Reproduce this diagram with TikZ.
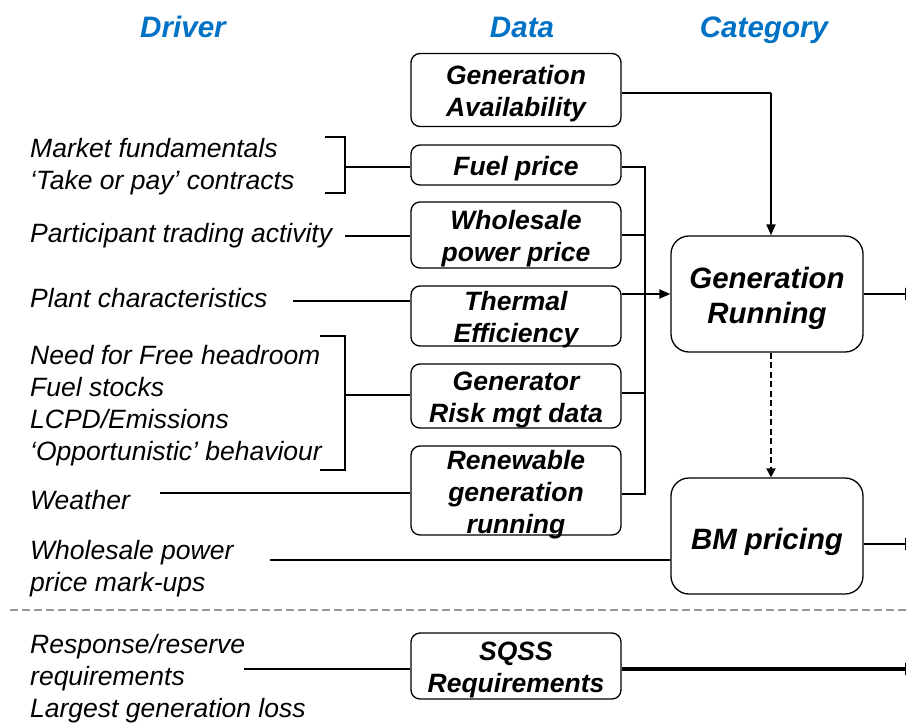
\documentclass[tikz,border=0pt]{standalone}
\usepackage{fontspec}
\setmainfont{Liberation Sans}
\usetikzlibrary{arrows.meta}
\definecolor{hdrblue}{RGB}{0,114,198}
\definecolor{sepgray}{RGB}{150,150,150}
\begin{document}
\begin{tikzpicture}[x=1pt,y=-1pt,
  databox/.style={draw, rounded corners=9pt, minimum width=210pt, line width=1.3pt, inner sep=0pt},
  dtext/.style={align=center, inner sep=0pt, yshift=-4pt, font=\fontsize{26.5}{32}\selectfont\bfseries\itshape},
  catbox/.style={draw, rounded corners=18pt, minimum width=192pt, minimum height=116pt,
    line width=1.3pt, inner sep=0pt},
  ctext/.style={align=center, inner sep=0pt, yshift=-4pt, font=\fontsize{29.4}{35}\selectfont\bfseries\itshape},
  drv/.style={anchor=west, align=left, inner sep=0pt, font=\fontsize{26.5}{32}\selectfont\itshape},
  hdr/.style={anchor=base, inner sep=0pt, text=hdrblue, font=\fontsize{29.6}{35}\selectfont\bfseries\itshape},
  conn/.style={line width=1.3pt},
  arr/.style={line width=2pt, -{Triangle[length=11pt,width=9pt]}},
  outarr/.style={line width=2.6pt, -{Triangle[length=12pt,width=12pt]}},
  sep/.style={draw=sepgray, line width=1.6pt, dash pattern=on 8pt off 4pt}]
\clip (0,0) rectangle (906,724);
\fill[white] (0,0) rectangle (906,724);

% headers
\node[hdr] (hdriver) at (183,37) {Driver};
\node[hdr] (hdata) at (522,37) {Data};
\node[hdr] (hcat) at (764,37) {Category};

% data boxes
\node[databox, minimum height=73pt, label={[dtext]center:{Generation\\Availability}}] (gavail) at (516,90) {};
\node[databox, minimum height=40pt, label={[dtext]center:{Fuel price}}] (fuel) at (516,165) {};
\node[databox, minimum height=66pt, label={[dtext]center:{Wholesale\\power price}}] (whole) at (516,235) {};
\node[databox, minimum height=60pt, label={[dtext]center:{Thermal\\Efficiency}}] (therm) at (516,316) {};
\node[databox, minimum height=64pt, label={[dtext]center:{Generator\\Risk mgt data}}] (risk) at (516,396) {};
\node[databox, minimum height=89pt, label={[dtext]center:{Renewable\\generation\\running}}] (renew) at (516,490.5) {};
\node[databox, minimum height=66pt, label={[dtext]center:{SQSS\\Requirements}}] (sqss) at (516,666) {};

% category boxes
\node[catbox, label={[ctext]center:{Generation\\Running}}] (genrun) at (767,294) {};
\node[catbox, label={[ctext, yshift=-2pt]center:{BM pricing}}] (bm) at (767,536) {};

% drivers
\node[drv] (d1) at (30,167) {Market fundamentals\\‘Take or pay’ contracts};
\node[drv] (d2) at (30,236) {Participant trading activity};
\node[drv] (d3) at (30,298) {Plant characteristics};
\node[drv] (d4) at (30,406) {Need for Free headroom\\Fuel stocks\\LCPD/Emissions\\‘Opportunistic’ behaviour};
\node[drv] (d5) at (30,500) {Weather};
\node[drv] (d6) at (30,569) {Wholesale power\\price mark-ups};
\node[drv] (d7) at (30,679) {Response/reserve\\requirements\\Largest generation loss};

% brackets
\coordinate (b1m) at (345,167);
\coordinate (b2m) at (345,395);
\draw[conn] (325,137) -- (345,137) -- (345,193) -- (325,193);
\draw[conn] (b1m) -- (b1m -| fuel.west);
\draw[conn] (320,336) -- (345,336) -- (345,470) -- (320,470);
\draw[conn] (b2m) -- (b2m -| risk.west);

% driver lines
\coordinate (w2) at (345,236);
\draw[conn] (w2) -- (w2 -| whole.west);
\coordinate (w3) at (293,301);
\draw[conn] (w3) -- (w3 -| therm.west);
\coordinate (w5) at (160,493);
\draw[conn] (w5) -- (w5 -| renew.west);
\coordinate (w6) at (270,560);
\draw[conn] (w6) -- (w6 -| bm.west);
\coordinate (w7) at (244,669);
\draw[conn] (w7) -- (w7 -| sqss.west);

% bus to generation running
\coordinate (bustop) at (645,167);
\coordinate (busbot) at (645,494);
\draw[conn] (bustop -| fuel.east) -- (bustop) -- (busbot) -- (busbot -| renew.east);
\draw[conn] (whole.east) -- (whole.east -| bustop);
\draw[conn] (risk.east |- 0,393) -- (645,393);
\draw[arr] (therm.east |- genrun.west) -- (genrun.west);

% availability
\coordinate (gacorner) at (771,93);
\draw[conn] (gavail.east |- gacorner) -- (gacorner);
\draw[arr] (gacorner) -- (gacorner |- genrun.north);

% dashed link
\draw[line width=2.6pt, dash pattern=on 6pt off 3.5pt, -{Triangle[length=9pt,width=9pt]}] (genrun.south -| 771,0) -- (bm.north -| 771,0);

% outputs
\draw[outarr] (genrun.east) -- (917,294);
\draw[outarr] (bm.east |- 0,544) -- (917,544);
\draw[line width=3.4pt, -{Triangle[length=12pt,width=12pt]}] (sqss.east |- 0,669) -- (917,669);

% separator
\draw[sep] (10,610) -- (906,610);
\end{tikzpicture}
\end{document}
